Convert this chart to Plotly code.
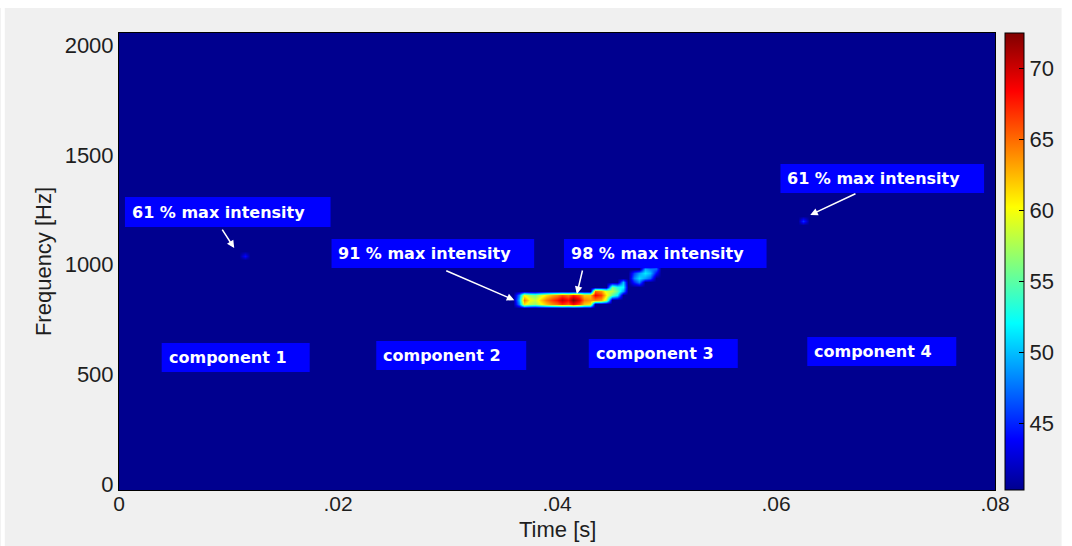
import numpy as np
import plotly.graph_objects as go

# ---- spectrogram grid -------------------------------------------------------
time_step = 0.0005          # s
freq_step = 20              # Hz
times = np.round(np.arange(0, 0.08 + 1e-9, time_step), 6)
freqs = np.arange(-20, 2061, freq_step)
floor_level = 40.3          # dB, background level of the spectrogram

# ---- main ridge (components 2 and 3) ---------------------------------------
# per time frame: centre frequency and level below / at / above the centre bin
ridge_time = [0.0365, 0.0370, 0.0375, 0.0380, 0.0385, 0.0390, 0.0395, 0.0400,
              0.0405, 0.0410, 0.0415, 0.0420, 0.0425, 0.0430, 0.0435, 0.0440,
              0.0445, 0.0450, 0.0455, 0.0460, 0.0470, 0.0475, 0.0480, 0.0485,
              0.0490]
ridge_freq = [840, 840, 840, 840, 840, 840, 840, 840,
              840, 840, 840, 840, 840, 840, 860, 860,
              860, 880, 880, 900, 940, 940, 960, 960,
              980]
ridge_peak = [50.0, 64.5, 60.0, 58.5, 62.0, 64.5, 66.5, 68.0,
              70.5, 68.5, 72.5, 69.5, 64.5, 63.5, 68.5, 66.5,
              61.0, 58.0, 55.0, 52.0, 48.0, 51.0, 51.5, 50.0,
              47.0]
ridge_low = [48.0, 61.0, 58.0, 57.0, 60.0, 62.0, 64.0, 65.0,
             67.0, 65.5, 68.5, 66.0, 62.0, 61.0, 64.0, 63.0,
             58.0, 55.0, 52.0, 49.0, 45.0, 48.0, 49.0, 47.0,
             44.0]
ridge_high = [48.0, 60.0, 57.0, 56.0, 59.0, 61.0, 63.0, 64.0,
              66.0, 64.5, 67.5, 65.5, 62.0, 62.0, 65.0, 63.5,
              59.0, 56.0, 53.0, 50.0, 46.0, 49.0, 49.5, 48.0,
              45.0]

# ---- weak isolated components (1 and 4) -------------------------------------
spot_time = [0.0115, 0.0627]
spot_freq = [1040, 1200]
spot_level = [44.0, 45.5]

# colour bar ticks
cbar_ticks = [45, 50, 55, 60, 65, 70]
x_tick_vals = [0, 0.02, 0.04, 0.06, 0.08]
x_tick_text = ["0", ".02", ".04", ".06", ".08"]
y_tick_vals = [0, 500, 1000, 1500, 2000]

# ---- build the level matrix ------------------------------------------------
z = np.full((len(freqs), len(times)), floor_level)


def put(t, f, level):
    i = int(round((f - freqs[0]) / freq_step))
    j = int(round(t / time_step))
    z[i, j] = level


for t, f, lo, pk, hi in zip(ridge_time, ridge_freq, ridge_low, ridge_peak, ridge_high):
    put(t, f - freq_step, lo)
    put(t, f, pk)
    put(t, f + freq_step, hi)

for t, f, lv in zip(spot_time, spot_freq, spot_level):
    put(t, f, lv)

# MATLAB-style jet colormap
jet = [
    [0.000, "rgb(0,0,143)"],
    [0.111, "rgb(0,0,255)"],
    [0.365, "rgb(0,255,255)"],
    [0.619, "rgb(255,255,0)"],
    [0.873, "rgb(255,0,0)"],
    [1.000, "rgb(128,0,0)"],
]

axis_font = dict(family="Arial, Liberation Sans, sans-serif", size=22, color="#1e1e1e")
xtick_font = dict(family="Arial, Liberation Sans, sans-serif", size=21, color="#1e1e1e")

fig = go.Figure(
    go.Heatmap(
        x=times,
        y=freqs,
        z=z,
        colorscale=jet,
        zmin=40.3,
        zmax=72.5,
        zsmooth="best",
        hoverinfo="skip",
        colorbar=dict(
            x=1.0113,
            xanchor="left",
            xpad=0,
            ypad=0,
            y=0.5,
            yanchor="middle",
            len=1,
            lenmode="fraction",
            thickness=19,
            thicknessmode="pixels",
            outlinecolor="black",
            outlinewidth=1,
            tickvals=cbar_ticks,
            ticks="inside",
            ticklen=5,
            tickcolor="black",
            tickfont=axis_font,
        ),
    )
)

# ---- annotation boxes ------------------------------------------------------
box_color = "#0000ff"
label_font = dict(family="DejaVu Sans, Verdana, sans-serif", size=16,
                  color="white", weight="bold")

boxes = [
    # (x0, x1, y0, y1, text, text_x, text_y)
    (0.000544, 0.019320, 1170.8, 1307.5, "61 % max intensity", 0.00100, 1239),
    (0.019410, 0.037914, 984.1, 1116.2, "91 % max intensity", 0.01986, 1050),
    (0.040635, 0.059138, 984.1, 1116.2, "98 % max intensity", 0.04109, 1050),
    (0.060408, 0.079002, 1325.7, 1457.9, "61 % max intensity", 0.06086, 1392),
    (0.003900, 0.017415, 510.3, 642.4, "component 1", 0.004354, 576),
    (0.023492, 0.037188, 519.4, 651.5, "component 2", 0.023946, 585),
    (0.042902, 0.056508, 528.5, 660.6, "component 3", 0.043356, 594),
    (0.062857, 0.076463, 537.6, 669.7, "component 4", 0.063311, 604),
]

shapes = []
annotations = []
for x0, x1, y0, y1, text, tx, ty in boxes:
    shapes.append(dict(type="rect", xref="x", yref="y", x0=x0, x1=x1, y0=y0, y1=y1,
                       fillcolor=box_color, line=dict(width=0), layer="above"))
    annotations.append(dict(x=tx, y=ty, xref="x", yref="y", text=text, showarrow=False,
                            xanchor="left", yanchor="middle", font=label_font))

# arrows from the labels to the components: (head_x, head_y, tail_x, tail_y)
arrows = [
    (0.010522, 1075, 0.009342, 1166),
    (0.036100, 838, 0.029750, 975),
    (0.041814, 866, 0.042358, 980),
    (0.063129, 1226, 0.067392, 1326),
]
for hx, hy, tx, ty in arrows:
    annotations.append(dict(x=hx, y=hy, ax=tx, ay=ty, xref="x", yref="y",
                            axref="x", ayref="y", text="", showarrow=True,
                            arrowhead=2, arrowsize=1, arrowwidth=1.5,
                            arrowcolor="white", standoff=0))

# x-axis title, set close under the tick labels
annotations.append(dict(x=0.5, y=-0.0875, xref="paper", yref="paper", text="Time [s]",
                        showarrow=False, xanchor="center", yanchor="middle",
                        font=axis_font))

# thin white border of the figure window
for x0, x1, y0, y1 in [(-0.1349, -0.1304, -0.2, 1.1), (1.0760, 1.09, -0.2, 1.1),
                       (-0.2, 1.1, 1.0547, 1.1)]:
    shapes.append(dict(type="rect", xref="paper", yref="paper", x0=x0, x1=x1,
                       y0=y0, y1=y1, fillcolor="white", line=dict(width=0),
                       layer="above"))

fig.update_layout(
    width=1072,
    height=546,
    margin=dict(l=119, r=71, t=33, b=56),
    paper_bgcolor="#f0f0f0",
    plot_bgcolor="rgb(0,0,143)",
    shapes=shapes,
    annotations=annotations,
    xaxis=dict(
        range=[0, 0.08],
        tickvals=x_tick_vals,
        ticktext=x_tick_text,
        tickfont=xtick_font,
        ticklabelstandoff=-5,
        showgrid=False,
        zeroline=False,
        showline=True,
        mirror=True,
        linecolor="black",
        linewidth=1,
        ticks="",
    ),
    yaxis=dict(
        range=[-27, 2055],
        tickvals=y_tick_vals,
        tickfont=axis_font,
        showgrid=False,
        zeroline=False,
        showline=True,
        mirror=True,
        linecolor="black",
        linewidth=1,
        ticks="",
        title=dict(text="Frequency [Hz]", font=axis_font, standoff=6),
    ),
)

fig.write_html("out.html")
